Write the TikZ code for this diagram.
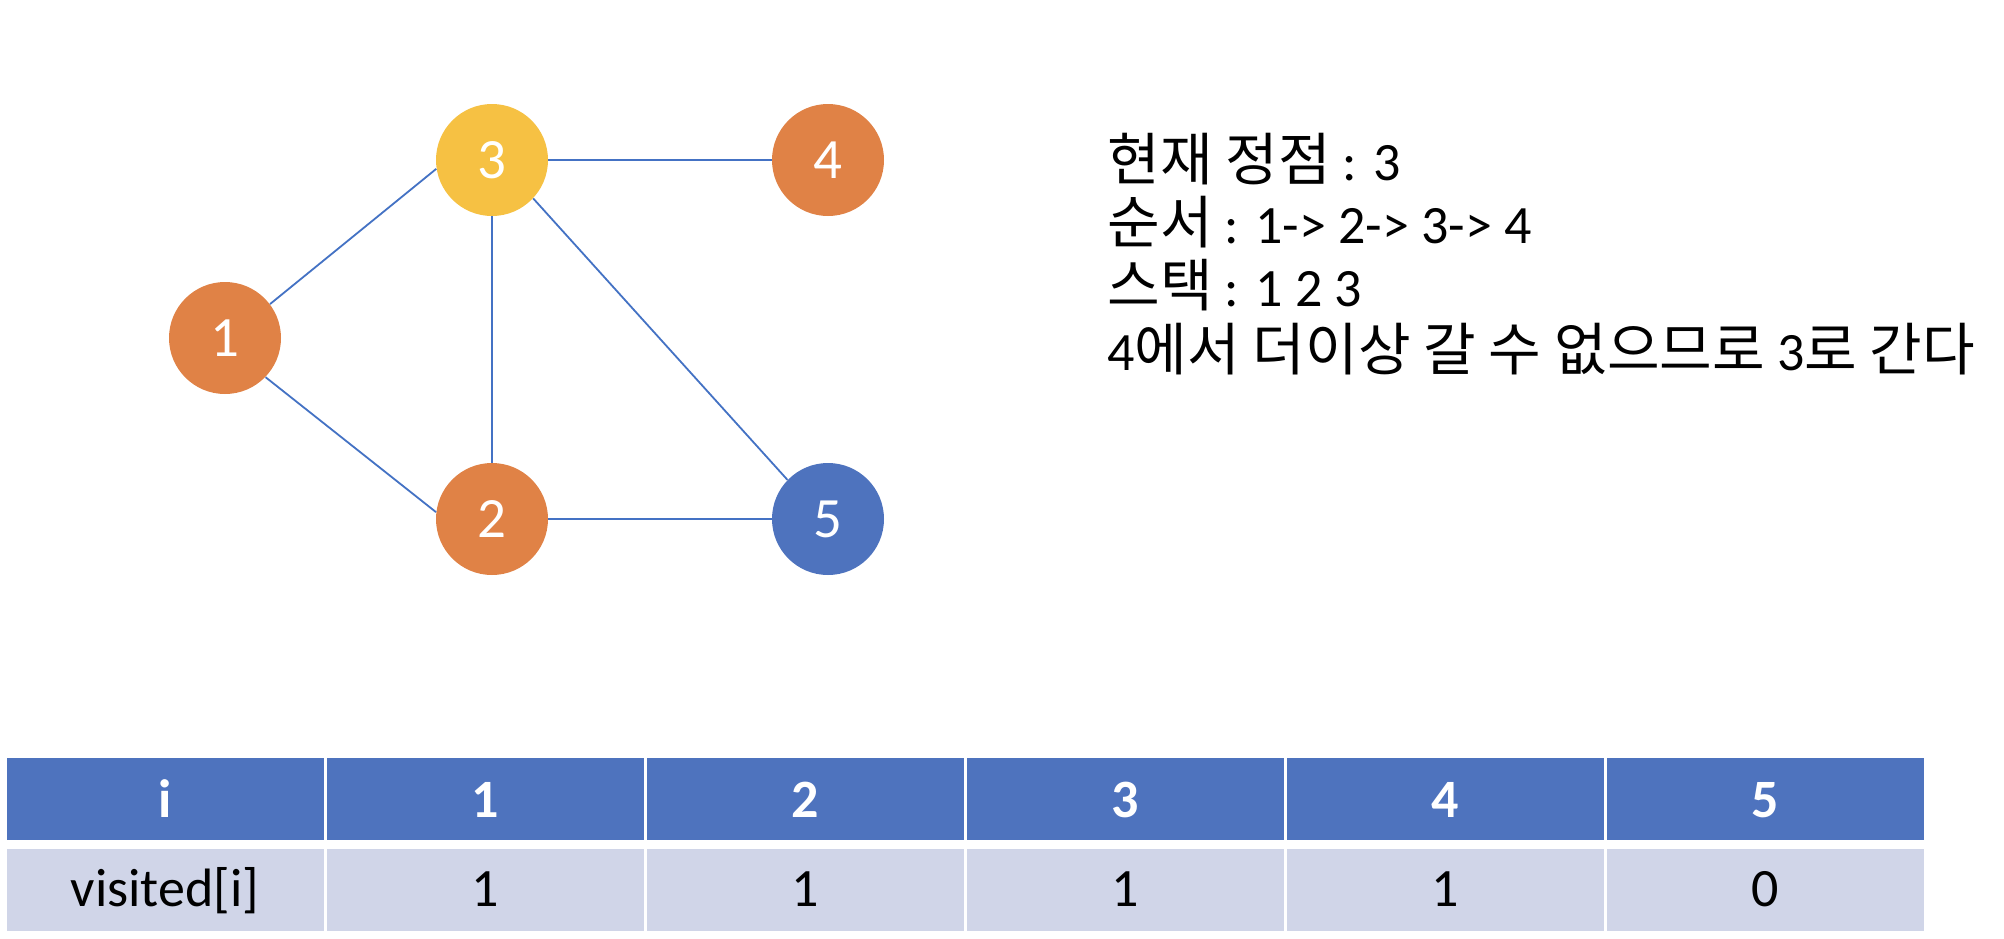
\documentclass[tikz,border=0pt]{standalone}
\usepackage{fontspec}
\setmainfont{Carlito}
\newfontfamily\krfont{Noto Sans CJK KR}
\newcommand\K[1]{{\krfont\fontsize{28.6}{34}\selectfont #1}}
\definecolor{orangeN}{HTML}{E08246}
\definecolor{yellowN}{HTML}{F6C143}
\definecolor{blueN}{HTML}{4E73BE}
\definecolor{edgeC}{HTML}{4472C4}
\definecolor{rowC}{HTML}{D0D5E8}
\tikzset{
  vtx/.style={circle, minimum size=56pt, inner sep=0pt, text=white,
    font=\fontsize{28.5}{34}\selectfont},
  edge/.style={draw=edgeC, line width=0.9pt},
  txtline/.style={anchor=base west, inner sep=0pt, font=\fontsize{27}{32}\selectfont},
  hdr/.style={anchor=base, inner sep=0pt, text=white, font=\bfseries\fontsize{27}{32}\selectfont},
  cellt/.style={anchor=base, inner sep=0pt, text=black, font=\fontsize{27}{32}\selectfont},
}
\begin{document}
\begin{tikzpicture}[x=0.5pt,y=-0.5pt]
\useasboundingbox (0,0) rectangle (2004,938);
\fill[white] (0,0) rectangle (2004,938);
% graph
\node[vtx, fill=orangeN] (n1) at (225,338) {1};
\node[vtx, fill=yellowN] (n3) at (492,160) {3};
\node[vtx, fill=orangeN] (n4) at (828,160) {4};
\node[vtx, fill=orangeN] (n2) at (492,519) {2};
\node[vtx, fill=blueN]   (n5) at (828,519) {5};
\draw[edge] (n1.37) -- (n3.189);
\draw[edge] (n1.-44) -- (n2.173);
\draw[edge] (n3.south) -- (n2.north);
\draw[edge] (n3.east) -- (n4.west);
\draw[edge] (n3.-43) -- (n5.136);
\draw[edge] (n2.east) -- (n5.west);
% text
\node[txtline] (t1) at (1107,180) {\K{현재 정점} : 3};
\node[txtline] (t2) at (1107,243) {\K{순서} : 1-> 2-> 3-> 4};
\node[txtline] (t3) at (1107,306) {\K{스택} : 1 2 3};
\node[txtline] (t4) at (1107,370) {4\K{에서 더이상 갈 수 없으므로} 3\K{로 간다}};
% table
\foreach \k in {0,...,5} {
  \fill[blueN] ({5+320*\k+1.5},758) rectangle ({5+320*(\k+1)-1.5},840);
  \fill[rowC] ({5+320*\k+1.5},849) rectangle ({5+320*(\k+1)-1.5},931);
}
\node[hdr] (h0) at (165,817) {i};
\node[hdr] (h1) at (485,817) {1};
\node[hdr] (h2) at (805,817) {2};
\node[hdr] (h3) at (1125,817) {3};
\node[hdr] (h4) at (1445,817) {4};
\node[hdr] (h5) at (1765,817) {5};
\node[cellt] (v0) at (165,906) {visited[i]};
\node[cellt] (v1) at (485,906) {1};
\node[cellt] (v2) at (805,906) {1};
\node[cellt] (v3) at (1125,906) {1};
\node[cellt] (v4) at (1445,906) {1};
\node[cellt] (v5) at (1765,906) {0};
\end{tikzpicture}
\end{document}
